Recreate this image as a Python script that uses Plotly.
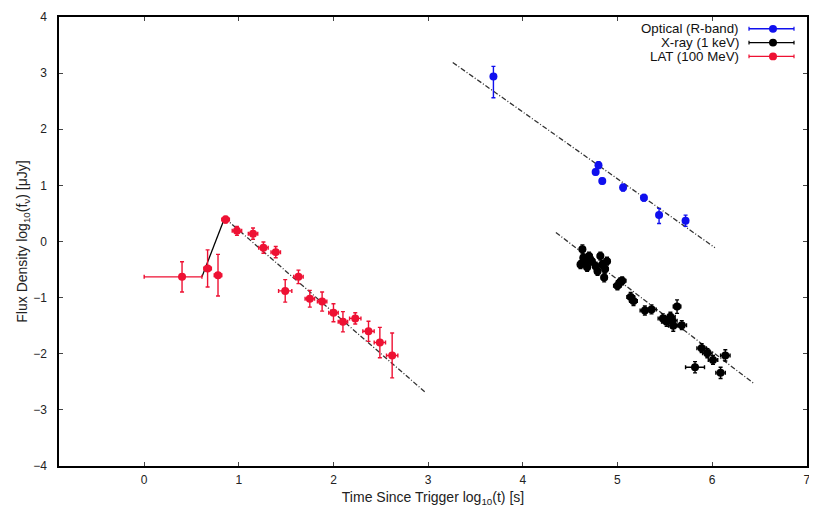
import plotly.graph_objects as go

# ---------------- data ----------------
lat_x = [0.40, 0.67, 0.78, 0.86, 0.98, 1.15, 1.26, 1.39, 1.49, 1.63, 1.75, 1.88, 2.00, 2.10, 2.23, 2.37, 2.49, 2.62]
lat_y = [-0.63, -0.48, -0.60, 0.39, 0.19, 0.14, -0.11, -0.19, -0.88, -0.63, -1.02, -1.07, -1.27, -1.43, -1.37, -1.60, -1.80, -2.03]
lat_yerr = [0.27, 0.33, 0.37, 0.06, 0.08, 0.10, 0.10, 0.10, 0.20, 0.12, 0.15, 0.17, 0.16, 0.18, 0.10, 0.18, 0.27, 0.40]
lat_xerr_plus = [0.21, 0.04, 0.04, 0.04, 0.05, 0.05, 0.05, 0.05, 0.07, 0.05, 0.05, 0.05, 0.05, 0.05, 0.06, 0.06, 0.06, 0.06]
lat_xerr_minus = [0.40, 0.04, 0.04, 0.04, 0.05, 0.05, 0.05, 0.05, 0.07, 0.05, 0.05, 0.05, 0.05, 0.05, 0.06, 0.06, 0.06, 0.06]

opt_x = [3.69, 4.77, 4.80, 4.84, 5.06, 5.28, 5.44, 5.72]
opt_y = [2.94, 1.24, 1.36, 1.08, 0.96, 0.78, 0.47, 0.37]
opt_yerr_plus = [0.18, 0.05, 0.06, 0.05, 0.06, 0.06, 0.12, 0.10]
opt_yerr_minus = [0.38, 0.05, 0.06, 0.05, 0.06, 0.06, 0.15, 0.10]

xr_x = [4.63, 4.64, 4.61, 4.70, 4.73, 4.77, 4.68, 4.82, 4.84, 4.87, 4.86, 4.89, 4.79, 4.66,
        5.03, 5.00, 5.05, 5.14, 5.17, 5.29, 5.36, 5.48, 5.52, 5.56, 5.59, 5.63, 5.68, 5.58,
        5.89, 5.95, 6.01, 6.14, 5.82, 6.09]
xr_y = [-0.14, -0.29, -0.41, -0.26, -0.35, -0.44, -0.46, -0.26, -0.41, -0.49, -0.64, -0.35, -0.53, -0.37,
        -0.72, -0.79, -0.70, -0.99, -1.06, -1.23, -1.21, -1.37, -1.43, -1.34, -1.50, -1.16, -1.49, -1.41,
        -1.90, -1.99, -2.11, -2.03, -2.24, -2.34]
xr_yerr = [0.08, 0.07, 0.07, 0.07, 0.07, 0.07, 0.07, 0.07, 0.07, 0.07, 0.08, 0.07, 0.07, 0.07,
           0.07, 0.07, 0.07, 0.08, 0.08, 0.08, 0.08, 0.08, 0.08, 0.08, 0.10, 0.12, 0.08, 0.08,
           0.08, 0.08, 0.08, 0.10, 0.10, 0.10]
xr_xerr = [0.03, 0.03, 0.03, 0.03, 0.03, 0.03, 0.03, 0.03, 0.03, 0.03, 0.03, 0.03, 0.03, 0.03,
           0.04, 0.04, 0.04, 0.04, 0.04, 0.05, 0.05, 0.05, 0.05, 0.05, 0.05, 0.04, 0.05, 0.05,
           0.05, 0.05, 0.05, 0.05, 0.10, 0.05]

# model lines
lat_rise_x = [0.61, 0.85]
lat_rise_y = [-0.63, 0.42]
lat_decay_x = [0.85, 2.98]
lat_decay_y = [0.42, -2.70]
opt_model_x = [3.26, 6.03]
opt_model_y = [3.19, -0.11]
xr_model_x = [4.35, 6.45]
xr_model_y = [0.16, -2.54]

x_ticks = [0, 1, 2, 3, 4, 5, 6, 7]
y_ticks = [-4, -3, -2, -1, 0, 1, 2, 3, 4]

RED = "#ee1133"
BLUE = "#1010ee"
BLACK = "#000000"

fig = go.Figure()

# models
fig.add_trace(go.Scatter(x=lat_rise_x, y=lat_rise_y, mode="lines",
                         line=dict(color=BLACK, width=1.3), showlegend=False))
for mx, my in [(lat_decay_x, lat_decay_y), (opt_model_x, opt_model_y), (xr_model_x, xr_model_y)]:
    fig.add_trace(go.Scatter(x=mx, y=my, mode="lines",
                             line=dict(color="#333333", width=1.3, dash="5px,2px,1px,2px"),
                             showlegend=False))

def err_trace(x, y, yp, ym, xp, xm, color):
    return go.Scatter(
        x=x, y=y, mode="markers",
        marker=dict(color=color, size=8, line=dict(width=0)),
        error_y=dict(type="data", array=yp, arrayminus=ym, symmetric=False,
                     color=color, thickness=1.4, width=2),
        error_x=dict(type="data", array=xp, arrayminus=xm, symmetric=False,
                     color=color, thickness=1.4, width=2),
        showlegend=False)

fig.add_trace(err_trace(lat_x, lat_y, lat_yerr, lat_yerr, lat_xerr_plus, lat_xerr_minus, RED))
fig.add_trace(err_trace(opt_x, opt_y, opt_yerr_plus, opt_yerr_minus, [0.02]*len(opt_x), [0.02]*len(opt_x), BLUE))
fig.add_trace(err_trace(xr_x, xr_y, xr_yerr, xr_yerr, xr_xerr, xr_xerr, BLACK))

# page has an 8px body margin: figure is shifted accordingly
OFF = 8
FRAME_L, FRAME_R, FRAME_T, FRAME_B = 59, 807, 10, 466
FW, FH = 817 - OFF, 514 - OFF
L, T = FRAME_L - OFF, FRAME_T - OFF
R, B = FW - (FRAME_R - OFF), FH - (FRAME_B - OFF)
W, H = FW - L - R, FH - T - B

# manual gnuplot-style legend (symbol to the right of the text)
legend_items = [("Optical (R-band)", BLUE), ("X-ray (1 keV)", BLACK), ("LAT (100 MeV)", RED)]
shapes = []
annotations = []
for i, (name, col) in enumerate(legend_items):
    yp = 1 - (12 + 14 * i) / H
    annotations.append(dict(xref="paper", yref="paper", x=(741 - FRAME_L) / W, y=yp,
                            text=name, showarrow=False, xanchor="right", yanchor="middle",
                            font=dict(size=13.3, color="#111111", family="Liberation Sans, Arial")))
    x0, x1 = (749 - FRAME_L) / W, (794 - FRAME_L) / W
    shapes.append(dict(type="line", xref="paper", yref="paper", x0=x0, x1=x1, y0=yp, y1=yp,
                       line=dict(color=col, width=1.4)))
    for xe in (x0, x1):
        shapes.append(dict(type="line", xref="paper", yref="paper", x0=xe, x1=xe,
                           y0=yp - 2 / H, y1=yp + 2 / H, line=dict(color=col, width=1.2)))
    xc = (773 - FRAME_L) / W
    shapes.append(dict(type="circle", xref="paper", yref="paper",
                       x0=xc - 4 / W, x1=xc + 4 / W, y0=yp - 4 / H, y1=yp + 4 / H,
                       fillcolor=col, line=dict(color=col, width=0)))

fig.update_layout(
    width=FW, height=FH,
    margin=dict(l=L, r=R, t=T, b=B),
    paper_bgcolor="white", plot_bgcolor="white",
    font=dict(family="Liberation Sans, Arial", size=12, color="#222222"),
    shapes=shapes, annotations=annotations,
    showlegend=False,
)
fig.update_xaxes(range=[-0.9, 7.003], tickvals=x_ticks, ticks="inside", ticklen=4,
                 showgrid=False, zeroline=False, showline=True, linecolor="black",
                 linewidth=1.5, mirror="ticks", ticklabelstandoff=2, ticklabeloverflow="allow",
                 title=dict(text="Time Since Trigger log<sub>10</sub>(t) [s]", standoff=6,
                            font=dict(size=14)))
fig.update_yaxes(range=[-4, 4], tickvals=y_ticks, ticks="inside", ticklen=4,
                 showgrid=False, zeroline=False, showline=True, linecolor="black",
                 linewidth=1.5, mirror="ticks", ticklabelstandoff=8, ticklabeloverflow="allow",
                 title=dict(text="Flux Density log<sub>10</sub>(f<sub>ν</sub>) [μJy]", standoff=2,
                            font=dict(size=14)))

fig.write_html("out.html")
